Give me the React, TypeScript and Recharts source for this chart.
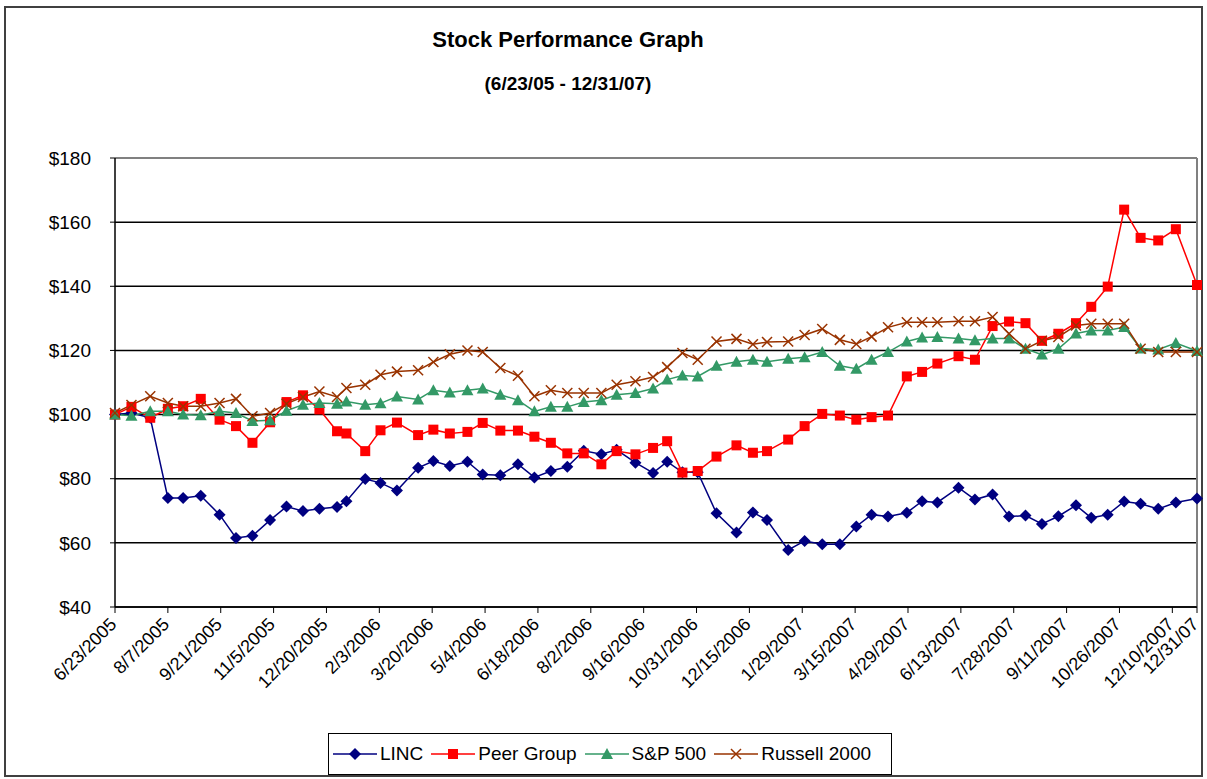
import { LineChart, Line, XAxis, YAxis, CartesianGrid, ReferenceLine } from "recharts";

// observation dates (roughly every two weeks)
const dates = [
  "6/23/2005", "7/7/2005", "7/23/2005", "8/7/2005", "8/20/2005", "9/4/2005", "9/20/2005", "10/4/2005",
  "10/18/2005", "11/2/2005", "11/16/2005", "11/30/2005", "12/14/2005", "12/29/2005", "1/6/2006", "1/22/2006",
  "2/4/2006", "2/18/2006", "3/8/2006", "3/21/2006", "4/4/2006", "4/19/2006", "5/2/2006", "5/17/2006",
  "6/1/2006", "6/15/2006", "6/29/2006", "7/13/2006", "7/27/2006", "8/11/2006", "8/24/2006", "9/9/2006",
  "9/24/2006", "10/6/2006", "10/19/2006", "11/1/2006", "11/17/2006", "12/4/2006", "12/18/2006", "12/30/2006",
  "1/17/2007", "1/31/2007", "2/15/2007", "3/2/2007", "3/16/2007", "3/29/2007", "4/12/2007", "4/28/2007",
  "5/11/2007", "5/24/2007", "6/11/2007", "6/25/2007", "7/10/2007", "7/24/2007", "8/7/2007", "8/21/2007",
  "9/4/2007", "9/19/2007", "10/2/2007", "10/16/2007", "10/30/2007", "11/13/2007", "11/28/2007", "12/13/2007",
  "12/31/2007",
];

const linc = [
  100, 100.5, 99, 74, 74, 74.7, 68.8, 61.5, 62.2, 67.1,
  71.3, 69.9, 70.6, 71.2, 73, 79.9, 78.7, 76.3, 83.4, 85.5,
  84, 85.3, 81.3, 81.1, 84.5, 80.4, 82.4, 83.7, 88.7, 87.6,
  89, 85, 81.8, 85.3, 82, 82, 69.2, 63.2, 69.5, 67.1,
  57.8, 60.6, 59.6, 59.6, 65.1, 68.8, 68.2, 69.4, 73, 72.6,
  77.2, 73.5, 75.1, 68.2, 68.5, 65.9, 68.3, 71.7, 67.8, 68.8,
  72.9, 72.2, 70.6, 72.6, 73.8,
];

const peerGroup = [
  100, 102.4, 99, 101.8, 102.6, 104.9, 98.4, 96.4, 91.2, 97.6,
  103.9, 106, 101.6, 94.8, 94.1, 88.6, 95.1, 97.5, 93.6, 95.3,
  94.1, 94.6, 97.4, 95, 95, 93.1, 91.2, 87.9, 87.9, 84.5,
  88.6, 87.6, 89.6, 91.7, 81.9, 82.4, 86.9, 90.4, 88.1, 88.6,
  92.2, 96.4, 100.2, 99.7, 98.4, 99.2, 99.7, 111.9, 113.3, 115.9,
  118.2, 117.1, 127.6, 129, 128.5, 123, 125.2, 128.5, 133.6, 139.9,
  163.9, 155.1, 154.3, 157.8, 140.4,
];

const sp500 = [
  100, 99.6, 101, 101, 100, 99.8, 101, 100.5, 98, 98.2,
  101.2, 103.1, 103.6, 103.4, 104.1, 103.1, 103.5, 105.6, 104.7, 107.6,
  106.9, 107.6, 108.1, 106.2, 104.5, 101, 102.4, 102.4, 103.9, 104.5,
  106.2, 106.7, 108.1, 110.9, 112.2, 111.9, 115.2, 116.5, 117.1, 116.5,
  117.4, 117.9, 119.5, 115.2, 114.3, 117.1, 119.5, 122.8, 124, 124.2,
  123.7, 123.2, 123.7, 123.7, 120.5, 118.7, 120.5, 125.3, 126.2, 126.2,
  127.3, 120.6, 120.3, 122.3, 119.8,
];

const russell2000 = [
  100.5, 103, 105.7, 103.6, 102.6, 102.6, 103.6, 104.9, 99.5, 100.5,
  103.4, 105.5, 107.2, 105.5, 108.3, 109.3, 112.4, 113.4, 113.8, 116.4,
  118.8, 120, 119.5, 114.5, 112.1, 105.7, 107.6, 106.7, 106.7, 106.7,
  109.3, 110.4, 111.7, 114.8, 119.2, 117.1, 122.8, 123.6, 121.9, 122.6,
  122.8, 124.8, 126.7, 123.3, 122, 124.3, 127.2, 128.8, 128.8, 128.8,
  129.1, 129.1, 130.4, 125.2, 120.5, 123, 124.2, 127.8, 128.3, 128.3,
  128.3, 120.5, 119.5, 119.5, 119.5,
];

const xTickLabels = [
  "6/23/2005", "8/7/2005", "9/21/2005", "11/5/2005", "12/20/2005", "2/3/2006", "3/20/2006",
  "5/4/2006", "6/18/2006", "8/2/2006", "9/16/2006", "10/31/2006", "12/15/2006", "1/29/2007",
  "3/15/2007", "4/29/2007", "6/13/2007", "7/28/2007", "9/11/2007", "10/26/2007", "12/10/2007",
  "12/31/07",
];

const yTicks = [40, 60, 80, 100, 120, 140, 160, 180];

const FONT = '"Liberation Sans", Arial, sans-serif';
const NAVY = "#000080";
const RED = "#ff0000";
const GREEN = "#339966";
const BROWN = "#993300";

function toDay(s: string) {
  const [m, d, y] = s.split("/").map(Number);
  return Date.UTC(y < 100 ? 2000 + y : y, m - 1, d) / 86400000;
}

const data = dates.map((d, i) => ({
  t: toDay(d),
  linc: linc[i],
  peer: peerGroup[i],
  sp: sp500[i],
  russell: russell2000[i],
}));

const xTicks = xTickLabels.map(toDay);
const tickLabel = new Map(xTicks.map((t, i) => [t, xTickLabels[i]]));

function Marker({ shape, cx, cy, color }: { shape: string; cx: number; cy: number; color: string }) {
  if (shape === "diamond")
    return <polygon points={`${cx},${cy - 6} ${cx + 6},${cy} ${cx},${cy + 6} ${cx - 6},${cy}`} fill={color} />;
  if (shape === "square") return <rect x={cx - 5} y={cy - 5} width={10} height={10} fill={color} />;
  if (shape === "triangle")
    return <polygon points={`${cx},${cy - 6} ${cx + 6},${cy + 5} ${cx - 6},${cy + 5}`} fill={color} />;
  return (
    <g stroke={color} strokeWidth={1.5}>
      <line x1={cx - 5} y1={cy - 5} x2={cx + 5} y2={cy + 5} />
      <line x1={cx - 5} y1={cy + 5} x2={cx + 5} y2={cy - 5} />
    </g>
  );
}

const series = [
  { key: "linc", name: "LINC", color: NAVY, shape: "diamond" },
  { key: "peer", name: "Peer Group", color: RED, shape: "square" },
  { key: "sp", name: "S&P 500", color: GREEN, shape: "triangle" },
  { key: "russell", name: "Russell 2000", color: BROWN, shape: "x" },
];

function XTick(props: any) {
  const { x, y, payload } = props;
  return (
    <text
      transform={`translate(${x - 2},${y + 6}) rotate(-45)`}
      textAnchor="end"
      dy="0.35em"
      fontSize={18}
      fontFamily={FONT}
      fill="#000"
    >
      {tickLabel.get(payload.value)}
    </text>
  );
}

export default function App() {
  return (
    <div style={{ position: "absolute", left: 0, top: 0, width: 1207, height: 779, background: "#fff", fontFamily: FONT }}>
      <div
        style={{
          position: "absolute",
          left: 4,
          top: 6,
          width: 1199,
          height: 771,
          border: "2px solid #404040",
          boxSizing: "border-box",
        }}
      />
      <div style={{ position: "absolute", left: 368, top: 29, width: 400, textAlign: "center", fontSize: 22, lineHeight: "22px", fontWeight: "bold" }}>
        Stock Performance Graph
      </div>
      <div style={{ position: "absolute", left: 368, top: 74, width: 400, textAlign: "center", fontSize: 19, lineHeight: "19px", fontWeight: "bold" }}>
        (6/23/05 - 12/31/07)
      </div>

      <LineChart width={1207} height={779} data={data} margin={{ top: 158, right: 10, bottom: 72, left: 0 }}>
        <CartesianGrid vertical={false} stroke="#000" strokeWidth={1.5} />
        <ReferenceLine y={180} stroke="#808080" strokeWidth={2} />
        <ReferenceLine x={xTicks[xTicks.length - 1]} stroke="#808080" strokeWidth={2} />
        <XAxis
          dataKey="t"
          type="number"
          domain={[xTicks[0], xTicks[xTicks.length - 1]]}
          ticks={xTicks}
          interval={0}
          height={100}
          tickSize={6}
          tick={<XTick />}
          axisLine={{ stroke: "#000", strokeWidth: 1.5 }}
          tickLine={{ stroke: "#000" }}
        />
        <YAxis
          domain={[40, 180]}
          ticks={yTicks}
          interval={0}
          width={115}
          tickSize={5}
          tickMargin={19}
          tickFormatter={(v) => `$${v}`}
          tick={{ fill: "#000", fontSize: 19, fontFamily: FONT }}
          axisLine={{ stroke: "#000", strokeWidth: 1.5 }}
          tickLine={{ stroke: "#000" }}
        />
        {series.map((s) => (
          <Line
            key={s.key}
            dataKey={s.key}
            name={s.name}
            type="linear"
            stroke={s.color}
            strokeWidth={1.5}
            isAnimationActive={false}
            activeDot={false}
            dot={(p: any) => <Marker key={`${s.key}-${p.index}`} shape={s.shape} cx={p.cx} cy={p.cy} color={s.color} />}
          />
        ))}
      </LineChart>

      <div
        style={{
          position: "absolute",
          left: 328,
          top: 733,
          width: 564,
          height: 42,
          border: "1.5px solid #000",
          boxSizing: "border-box",
          display: "flex",
          alignItems: "center",
          paddingLeft: 4,
          fontSize: 19,
        }}
      >
        {series.map((s) => (
          <div key={s.key} style={{ display: "flex", alignItems: "center", marginRight: 8 }}>
            <svg width={44} height={14}>
              <line x1={0} y1={7} x2={44} y2={7} stroke={s.color} strokeWidth={1.5} />
              <Marker shape={s.shape} cx={22} cy={7} color={s.color} />
            </svg>
            <span style={{ marginLeft: 3 }}>{s.name}</span>
          </div>
        ))}
      </div>
    </div>
  );
}
